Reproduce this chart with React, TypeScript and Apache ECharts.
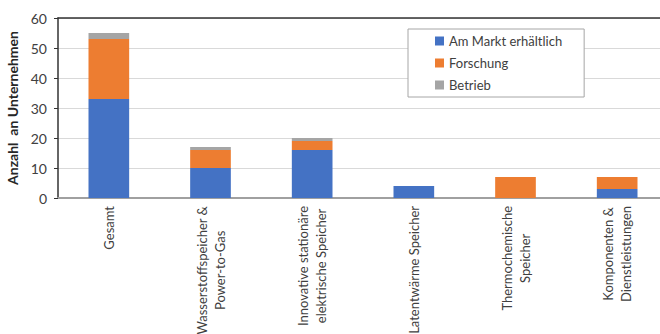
import React, { useEffect, useRef } from "react";
import * as echarts from "echarts";

const categories = [
  "Gesamt",
  "Wasserstoffspeicher &\nPower-to-Gas",
  "Innovative stationäre\nelektrische Speicher",
  "Latentwärme Speicher",
  "Thermochemische\nSpeicher",
  "Komponenten &\nDienstleistungen",
];
const amMarkt = [33, 10, 16, 4, 0, 3];
const forschung = [20, 6, 3, 0, 7, 4];
const betrieb = [2, 1, 1, 0, 0, 0];
const seriesNames = ["Am Markt erhältlich", "Forschung", "Betrieb"];
const yTicks = { min: 0, max: 60, interval: 10 };
const yAxisName = "Anzahl  an Unternehmen";

const FONT = "Lato, 'Noto Sans', sans-serif";
const TEXT = "#404040";

export default function App() {
  const ref = useRef<HTMLDivElement>(null);
  useEffect(() => {
    if (!ref.current) return;
    const chart = echarts.init(ref.current, undefined, { renderer: "svg" });
    const colors = ["#4472C4", "#ED7D31", "#A5A5A5"];
    const data = [amMarkt, forschung, betrieb];
    chart.setOption({
      animation: false,
      textStyle: { fontFamily: FONT },
      grid: {
        left: 58,
        top: 18,
        width: 610,
        height: 180,
        containLabel: false,
        outerBoundsMode: "none",
      },
      legend: {
        orient: "vertical",
        left: 408,
        top: 29,
        padding: [5, 22, 5, 27],
        itemGap: 8,
        itemWidth: 9,
        itemHeight: 9,
        icon: "rect",
        backgroundColor: "#ffffff",
        borderColor: "#a6a6a6",
        borderWidth: 1,
        textStyle: { fontFamily: FONT, fontSize: 13, color: TEXT, lineHeight: 14 },
        data: seriesNames,
      },
      xAxis: [
        {
          type: "category",
          data: categories,
          axisLine: { lineStyle: { color: "#a0a0a0", width: 2 } },
          axisTick: { show: false },
          axisLabel: {
            rotate: 90,
            margin: 8,
            interval: 0,
            color: TEXT,
            formatter: (v: string) =>
              v.split("\n").map((s) => `{c|${s}}`).join("\n"),
            rich: {
              c: { align: "center", fontFamily: FONT, fontSize: 13, lineHeight: 18, color: TEXT },
            },
          },
        },
        {
          type: "category",
          position: "top",
          data: categories,
          axisLine: { show: true, lineStyle: { color: "#333333", width: 1.5 } },
          axisTick: { show: false },
          axisLabel: { show: false },
        },
      ],
      yAxis: {
        type: "value",
        min: yTicks.min,
        max: yTicks.max,
        interval: yTicks.interval,
        name: yAxisName,
        nameLocation: "middle",
        nameGap: 37,
        nameTextStyle: { fontFamily: FONT, fontSize: 14, fontWeight: "bold", color: "#262626" },
        axisLine: { show: true, lineStyle: { color: "#333333", width: 1.5 } },
        axisTick: { show: true, length: 4, lineStyle: { color: "#333333" } },
        axisLabel: { margin: 11, fontFamily: FONT, fontSize: 14, color: TEXT },
        splitLine: { lineStyle: { color: "#d9d9d9", width: 1 } },
      },
      series: seriesNames.map((name, i) => ({
        name,
        type: "bar",
        stack: "total",
        barWidth: "40%",
        itemStyle: { color: colors[i] },
        data: data[i],
      })),
    });
    return () => chart.dispose();
  }, []);
  return (
    <div
      ref={ref}
      style={{ position: "fixed", left: 0, top: 0, width: 660, height: 334, background: "#fff" }}
    />
  );
}
